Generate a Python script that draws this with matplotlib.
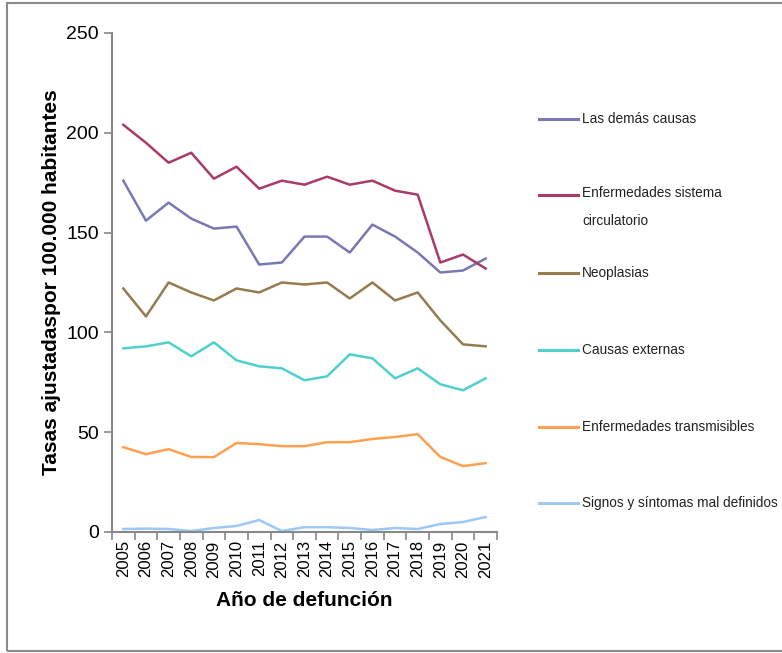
import matplotlib
matplotlib.use("Agg")
import matplotlib.pyplot as plt
from matplotlib.lines import Line2D
from matplotlib.patches import Rectangle

plt.rcParams["font.family"] = ["Liberation Sans Narrow", "Liberation Sans", "DejaVu Sans"]

# === Dati ===
years = [str(y) for y in range(2005, 2022)]

demas_causas = [176, 156, 165, 157, 152, 153, 134, 135, 148, 148, 140, 154, 148, 140, 130, 131, 137]
circulatorio = [204, 195, 185, 190, 177, 183, 172, 176, 174, 178, 174, 176, 171, 169, 135, 139, 132]
neoplasias = [122, 108, 125, 120, 116, 122, 120, 125, 124, 125, 117, 125, 116, 120, 106, 94, 93]
causas_externas = [92, 93, 95, 88, 95, 86, 83, 82, 76, 78, 89, 87, 77, 82, 74, 71, 77]
transmisibles = [42.5, 39, 41.5, 37.6, 37.5, 44.6, 44, 43, 43, 45, 45, 46.6, 47.6, 49, 37.6, 33, 34.5]
signos = [1.5, 1.7, 1.5, 0.5, 2, 3, 6, 0.5, 2.4, 2.4, 2, 1, 2, 1.5, 4, 5, 7.5]

series = [
    ("Las demás causas", demas_causas, "#7878b4"),
    ("Enfermedades sistema\ncirculatorio", circulatorio, "#a83a6c"),
    ("Neoplasias", neoplasias, "#957b4e"),
    ("Causas externas", causas_externas, "#4fd0cc"),
    ("Enfermedades transmisibles", transmisibles, "#ffa050"),
    ("Signos y síntomas mal definidos", signos, "#9cc8f8"),
]

fig = plt.figure(figsize=(7.82, 6.53), dpi=100)
ax = fig.add_axes([0.1432, 0.1853, 0.4923, 0.7642])

x = range(len(years))
for name, vals, color in series:
    ax.plot(x, vals, color=color, linewidth=1.8)

# Assi
ax.set_xlim(-0.5, len(years) - 0.5)
ax.set_ylim(0, 250)
ax.set_yticks([0, 50, 100, 150, 200, 250])
ax.set_xticks(list(x))
ax.set_xticklabels(years, rotation=90, fontsize=12)
ax.set_xticks([i - 0.5 for i in range(len(years) + 1)], minor=True)
ax.tick_params(axis="x", which="major", length=0, pad=6)
ax.tick_params(axis="x", which="minor", length=6, color="#888888", width=1.2)
ax.tick_params(axis="y", length=6, color="#888888", width=1.2, labelsize=14)

for s in ["top", "right"]:
    ax.spines[s].set_visible(False)
for s in ["left", "bottom"]:
    ax.spines[s].set_color("#888888")
    ax.spines[s].set_linewidth(1.5)

ax.set_ylabel("Tasas ajustadaspor 100.000 habitantes", fontsize=15, fontweight="bold", labelpad=4)
ax.set_xlabel("Año de defunción", fontsize=15, fontweight="bold", labelpad=10)

# Legenda manuale a destra
legend_y = [119, 207, 273, 350, 427, 503]
for (name, vals, color), yp in zip(series, legend_y):
    yf = 1 - yp / 653
    if "\n" in name:
        yl = 1 - 195 / 653
    else:
        yl = yf
    fig.add_artist(Line2D([539 / 782, 578 / 782], [yl, yl], color=color, linewidth=2.2))
    fig.text(582 / 782, yf, name, fontsize=9.8, color="#222222", va="center", ha="left",
             linespacing=2.2)

# Cornice
fig.add_artist(Rectangle((7 / 782, 2 / 653), 1.2, 1 - 5 / 653, fill=False,
                         edgecolor="#8a8a8a", linewidth=1.5, transform=fig.transFigure))

fig.savefig("out.png", dpi=100)
